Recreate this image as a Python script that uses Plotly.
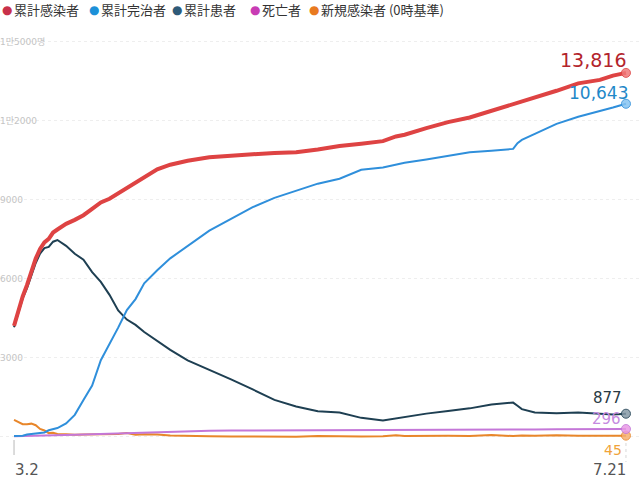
import plotly.graph_objects as go

# ---------------- data ----------------
dates = ["2020-03-02", "2020-03-03", "2020-03-04", "2020-03-05", "2020-03-06", "2020-03-07",
         "2020-03-08", "2020-03-09", "2020-03-10", "2020-03-11", "2020-03-12", "2020-03-14",
         "2020-03-16", "2020-03-18", "2020-03-20", "2020-03-22", "2020-03-24", "2020-03-26",
         "2020-03-28", "2020-03-30", "2020-04-01", "2020-04-04", "2020-04-07", "2020-04-11",
         "2020-04-16", "2020-04-21", "2020-04-26", "2020-05-01", "2020-05-06", "2020-05-11",
         "2020-05-16", "2020-05-21", "2020-05-26", "2020-05-29", "2020-05-31", "2020-06-05",
         "2020-06-10", "2020-06-15", "2020-06-20", "2020-06-25", "2020-06-26", "2020-06-27",
         "2020-06-30", "2020-07-05", "2020-07-10", "2020-07-15", "2020-07-18", "2020-07-21"]

confirmed = [4212, 4812, 5328, 5766, 6284, 6767, 7134, 7382, 7513, 7755, 7869, 8086,
             8236, 8413, 8652, 8897, 9037, 9241, 9478, 9661, 9887, 10156, 10331, 10480,
             10613, 10683, 10728, 10774, 10806, 10909, 11037, 11122, 11225, 11402, 11468, 11719,
             11947, 12121, 12373, 12602, 12653, 12715, 12850, 13137, 13417, 13551, 13711, 13816]

released = [30, 30, 41, 88, 108, 118, 130, 166, 247, 288, 333, 510,
            834, 1401, 1947, 2909, 3507, 4144, 4811, 5228, 5828, 6325, 6776, 7243,
            7829, 8277, 8717, 9072, 9333, 9610, 9800, 10135, 10226, 10340, 10405, 10531,
            10669, 10800, 10856, 10930, 11150, 11270, 11500, 11880, 12150, 12360, 12500, 12643]

current = [4160, 4750, 5255, 5643, 6134, 6600, 6954, 7165, 7212, 7407, 7470, 7250,
           6950, 6720, 6250, 5880, 5390, 4800, 4450, 4250, 3980, 3650, 3300, 2900,
           2550, 2180, 1800, 1400, 1150, 970, 920, 720, 620, 700, 770, 880,
           980, 1080, 1230, 1300, 1180, 1050, 920, 890, 920, 880, 850, 877]

deaths = [22, 28, 32, 35, 42, 44, 50, 51, 54, 60, 66, 72,
          75, 84, 94, 104, 120, 131, 144, 158, 165, 177, 192, 211,
          229, 237, 242, 248, 255, 256, 262, 264, 269, 269, 270, 273,
          276, 277, 280, 282, 282, 282, 282, 284, 288, 289, 293, 296]

new_cases = [640, 560, 480, 480, 500, 440, 300, 240, 140, 150, 110, 100,
             75, 90, 90, 100, 80, 105, 140, 80, 100, 90, 50, 30,
             22, 10, 10, 8, 4, 35, 20, 15, 20, 60, 30, 45,
             45, 35, 65, 30, 40, 50, 45, 60, 45, 35, 30, 45]

series_names = ["累計感染者", "累計完治者", "累計患者", "死亡者", "新規感染者 (0時基準)"]
end_labels = ["13,816", "10,643", "877", "296", "45"]

y_tickvals = [0, 3000, 6000, 9000, 12000, 15000]
y_ticktext = ["0", "3000", "6000", "9000", "1만2000", "1만5000명"]
x_tick_dates = [dates[0], dates[-1]]
x_tick_labels = ["3.2", "7.21"]

# ---------------- styles ----------------
series_values = [confirmed, released, current, deaths, new_cases]
line_colors = ["#de4343", "#2f8fdb", "#1e3f52", "#c477d8", "#e8862a"]
line_widths = [4, 2, 2, 2, 2]
dot_colors = ["#f07a7a", "#86c4f2", "#8699a6", "#e99ae6", "#f6b070"]
label_colors = ["#b3242c", "#1f88c8", "#2a3a44", "#c58ae0", "#f0a33a"]
label_sizes = [19, 17, 15, 15, 14]
label_yanchor = ["bottom", "bottom", "bottom", "bottom", "top"]
label_xshift = [2, 4, -2, -3, -2]
label_yshift = [0, -1, 5, -1, -4]
legend_dot_colors = ["#c8304a", "#1c90d8", "#2e5a78", "#c83cb4", "#e87a20"]
legend_dot_x = [7, 94, 177, 255, 314]
legend_text_x = [12, 99, 182, 260, 319]
draw_order = [4, 3, 2, 1, 0]
num_font = "DejaVu Sans"
x_label_anchor = ["left", "right"]
x_label_xshift = [-1, 2]
tick_colors = ["#b8b8b8", "#d8d8d8"]
tick_dash = ["solid", "dot"]
tick_top_px = [0, 3]
tick_bottom_px = [15, 22]

W, H = 640, 480
mt, mb, ml, mr = 30, 40, 0, 0
x_range = ["2020-02-27 18:30", "2020-07-24 05:30"]
y_range = [-121, 15444]
plot_h = H - mt - mb

fig = go.Figure()
for i in draw_order:
    fig.add_trace(go.Scatter(
        x=dates, y=series_values[i], mode="lines", name=series_names[i],
        line=dict(color=line_colors[i], width=line_widths[i]),
        showlegend=False, hoverinfo="skip"))
for i in draw_order:
    fig.add_trace(go.Scatter(
        x=[dates[-1]], y=[series_values[i][-1]], mode="markers",
        marker=dict(color=dot_colors[i], size=9, opacity=0.85,
                    line=dict(color=line_colors[i], width=1)),
        showlegend=False, hoverinfo="skip", cliponaxis=False))

annotations = []
for i in range(5):
    annotations.append(dict(
        x=dates[-1], y=series_values[i][-1], xref="x", yref="y",
        text=end_labels[i], showarrow=False, xanchor="right",
        yanchor=label_yanchor[i], xshift=label_xshift[i], yshift=label_yshift[i],
        font=dict(family=num_font, size=label_sizes[i], color=label_colors[i])))

legend_y = (H - mb - 10) / plot_h
for i in range(5):
    annotations.append(dict(
        x=legend_dot_x[i] / W, y=legend_y, xref="paper", yref="paper",
        text="●", showarrow=False, xanchor="center", yanchor="middle",
        font=dict(family="DejaVu Sans", size=12, color=legend_dot_colors[i])))
    annotations.append(dict(
        x=legend_text_x[i] / W, y=legend_y, xref="paper", yref="paper",
        text=series_names[i], showarrow=False, xanchor="left", yanchor="middle",
        font=dict(family="Noto Sans CJK JP", size=13, color="#333333")))

# x-axis tick labels and tick marks at the first and last dates
shapes = []
for k in range(2):
    annotations.append(dict(
        x=x_tick_dates[k], y=-30 / plot_h, xref="x", yref="paper",
        text=x_tick_labels[k], showarrow=False, xanchor=x_label_anchor[k],
        yanchor="middle", xshift=x_label_xshift[k],
        font=dict(family=num_font, size=15, color="#555555")))
    shapes.append(dict(
        type="line", xref="x", yref="paper",
        x0=x_tick_dates[k], x1=x_tick_dates[k],
        y0=-tick_top_px[k] / plot_h, y1=-tick_bottom_px[k] / plot_h,
        line=dict(color=tick_colors[k], width=1, dash=tick_dash[k])))

fig.update_layout(
    width=W, height=H,
    margin=dict(t=mt, b=mb, l=ml, r=mr, pad=0, autoexpand=False),
    paper_bgcolor="white", plot_bgcolor="white",
    showlegend=False,
    annotations=annotations,
    shapes=shapes,
    xaxis=dict(type="date", range=x_range, showgrid=False, zeroline=False,
               showline=False, showticklabels=False, ticks="", automargin=False),
    yaxis=dict(range=y_range, tickvals=y_tickvals, ticktext=y_ticktext,
               ticklabelposition="inside", showgrid=True, gridcolor="#eeeeee",
               griddash="dot", gridwidth=1, zeroline=False, showline=False,
               ticks="", automargin=False, ticklabelstandoff=-3,
               tickfont=dict(family="DejaVu Sans, Noto Sans CJK KR", size=9, color="#c4c4c4")),
)

fig.write_html("out.html", config={"displayModeBar": False},
               post_script="document.body.style.margin='0px';")
